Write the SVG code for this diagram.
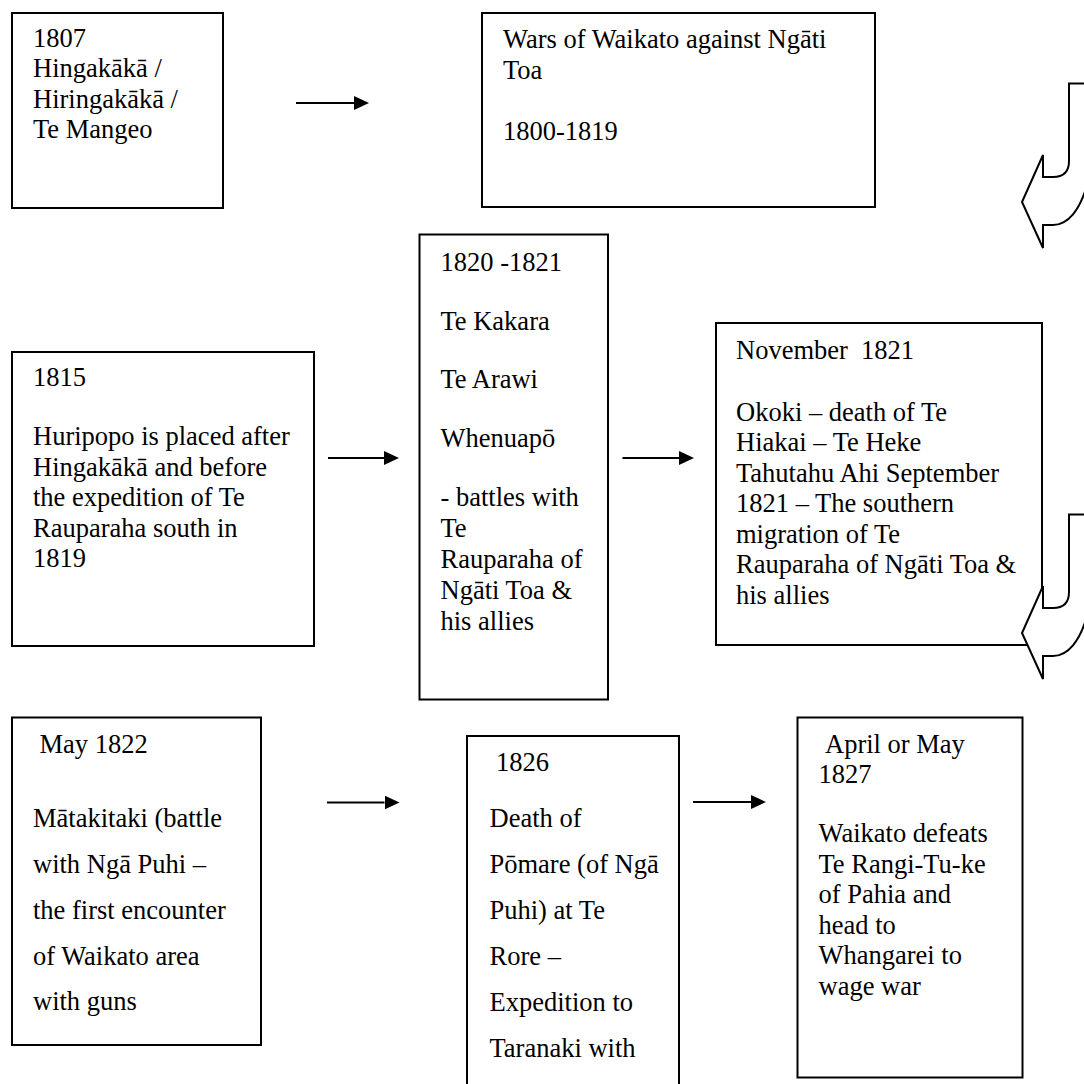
<svg xmlns="http://www.w3.org/2000/svg" xmlns:xlink="http://www.w3.org/1999/xlink" width="1084" height="1084" viewBox="0 0 1084 1084">
  <style>
    .box { fill: #ffffff; stroke: #000000; stroke-width: 2; }
    .t { font-family: "Liberation Serif", "Times New Roman", serif; font-size: 26.5px; fill: #000000; }
    .link { stroke: #000000; stroke-width: 2; fill: none; }
    .turn { fill: #ffffff; stroke: #000000; stroke-width: 2; stroke-linejoin: miter; }
  </style>
  <defs>
    <marker id="head" markerUnits="userSpaceOnUse" markerWidth="16" markerHeight="14" refX="0" refY="7" orient="auto">
      <path d="M0,0 L15,7 L0,14 z" fill="#000000"/>
    </marker>
    <!-- curved block arrow turning down and pointing left; its right part runs off the page -->
    <path id="turnArrow" class="turn" d="M 1096 83.5 L 1069 83.5 L 1069 161 Q 1069 177 1053 177 L 1043 177 L 1043 155 L 1022 202 L 1043 248 L 1043 225 L 1053 225 C 1068 225 1080 210 1087 185 Z"/>
  </defs>
  <rect width="1084" height="1084" fill="#ffffff"/>

  <g id="node-1807">
    <rect class="box" x="12" y="13" width="211" height="195"/>
    <text class="t" x="33" y="46.5">1807</text>
    <text class="t" x="33" y="77">Hingakākā /</text>
    <text class="t" x="33" y="107.5">Hiringakākā /</text>
    <text class="t" x="33" y="138">Te Mangeo</text>
  </g>

  <g id="node-wars">
    <rect class="box" x="482" y="13" width="393" height="194"/>
    <text class="t" x="503" y="48">Wars of Waikato against Ngāti</text>
    <text class="t" x="503" y="78.5">Toa</text>
    <text class="t" x="503" y="139.5">1800-1819</text>
  </g>

  <g id="node-1815">
    <rect class="box" x="12" y="352" width="302" height="294"/>
    <text class="t" x="33" y="386">1815</text>
    <text class="t" x="33" y="445">Huripopo is placed after</text>
    <text class="t" x="33" y="475.5">Hingakākā and before</text>
    <text class="t" x="33" y="506">the expedition of Te</text>
    <text class="t" x="33" y="536.5">Rauparaha south in</text>
    <text class="t" x="33" y="567">1819</text>
  </g>

  <g id="node-1820">
    <rect class="box" x="419.5" y="234.5" width="188.5" height="465"/>
    <text class="t" x="440.5" y="270.5" xml:space="preserve">1820 -1821</text>
    <text class="t" x="440.5" y="329.5">Te Kakara</text>
    <text class="t" x="440.5" y="388">Te Arawi</text>
    <text class="t" x="440.5" y="447">Whenuapō</text>
    <text class="t" x="440.5" y="506">- battles with</text>
    <text class="t" x="440.5" y="537">Te</text>
    <text class="t" x="440.5" y="568">Rauparaha of</text>
    <text class="t" x="440.5" y="599">Ngāti Toa &amp;</text>
    <text class="t" x="440.5" y="630">his allies</text>
  </g>

  <g id="node-nov1821">
    <rect class="box" x="716" y="323" width="326" height="322"/>
    <text class="t" x="736" y="359" xml:space="preserve">November  1821</text>
    <text class="t" x="736" y="420.5">Okoki – death of Te</text>
    <text class="t" x="736" y="451">Hiakai – Te Heke</text>
    <text class="t" x="736" y="481.5">Tahutahu Ahi September</text>
    <text class="t" x="736" y="512">1821 – The southern</text>
    <text class="t" x="736" y="542.5">migration of Te</text>
    <text class="t" x="736" y="573">Rauparaha of Ngāti Toa &amp;</text>
    <text class="t" x="736" y="603.5">his allies</text>
  </g>

  <g id="node-may1822">
    <rect class="box" x="12" y="717.5" width="249" height="327.5"/>
    <text class="t" x="39.5" y="752.5">May 1822</text>
    <text class="t" x="33" y="826.5">Mātakitaki (battle</text>
    <text class="t" x="33" y="872.5">with Ngā Puhi –</text>
    <text class="t" x="33" y="918.5">the first encounter</text>
    <text class="t" x="33" y="964.5">of Waikato area</text>
    <text class="t" x="33" y="1010">with guns</text>
  </g>

  <g id="node-1826">
    <rect class="box" x="467" y="736" width="212" height="360"/>
    <text class="t" x="496" y="770.5">1826</text>
    <text class="t" x="489.5" y="827">Death of</text>
    <text class="t" x="489.5" y="873">Pōmare (of Ngā</text>
    <text class="t" x="489.5" y="919">Puhi) at Te</text>
    <text class="t" x="489.5" y="965">Rore –</text>
    <text class="t" x="489.5" y="1011">Expedition to</text>
    <text class="t" x="489.5" y="1057">Taranaki with</text>
  </g>

  <g id="node-1827">
    <rect class="box" x="797.5" y="717.5" width="225" height="360"/>
    <text class="t" x="825" y="753">April or May</text>
    <text class="t" x="818.5" y="783">1827</text>
    <text class="t" x="818.5" y="842">Waikato defeats</text>
    <text class="t" x="818.5" y="872.5">Te Rangi-Tu-ke</text>
    <text class="t" x="818.5" y="903">of Pahia and</text>
    <text class="t" x="818.5" y="933.5">head to</text>
    <text class="t" x="818.5" y="964">Whangarei to</text>
    <text class="t" x="818.5" y="994.5">wage war</text>
  </g>

  <g id="connectors">
    <line class="link" x1="296" y1="103" x2="354" y2="103" marker-end="url(#head)"/>
    <line class="link" x1="328" y1="458" x2="384" y2="458" marker-end="url(#head)"/>
    <line class="link" x1="622.5" y1="458" x2="679" y2="458" marker-end="url(#head)"/>
    <line class="link" x1="327" y1="802.5" x2="384.5" y2="802.5" marker-end="url(#head)"/>
    <line class="link" x1="693" y1="802" x2="751" y2="802" marker-end="url(#head)"/>
    <use xlink:href="#turnArrow"/>
    <use xlink:href="#turnArrow" transform="translate(0,431)"/>
  </g>
</svg>
